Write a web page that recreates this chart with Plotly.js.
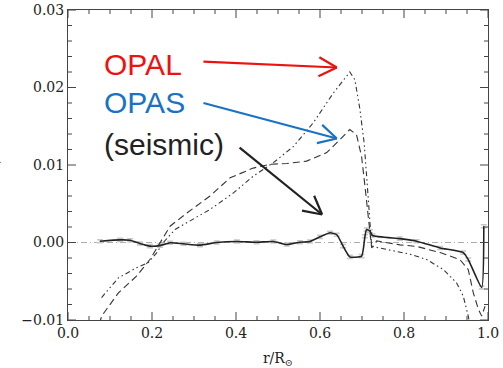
<!DOCTYPE html>
<html><head><meta charset="utf-8">
<script src="https://cdn.plot.ly/plotly-3.0.1.min.js"></script>
<style>html,body{margin:0;padding:0;background:#fff;}#chart{width:503px;height:368px;}</style>
</head><body><div id="chart"></div>
<script>
// OPAL (dash-dot-dot)
const opalX = [0.080,0.120,0.163,0.191,0.211,0.227,0.255,0.298,0.338,0.394,0.441,0.489,0.537,0.584,0.632,0.671,0.683,0.695,0.705,0.711,0.717,0.721,0.723,0.759,0.814,0.854,0.894,0.925,0.941,0.953,0.960];
const opalY = [-0.0071,-0.00456,-0.00327,-0.0026,-0.00133,0.0,0.00168,0.00297,0.00426,0.0064,0.00856,0.0103,0.0124,0.01545,0.0193,0.0220,0.0210,0.0172,0.0129,0.0086,0.0034,0.0,-0.0005,-0.0009,-0.0015,-0.0022,-0.0035,-0.0052,-0.0069,-0.0095,-0.0115];
// OPAS (dashed)
const opasX = [0.075,0.080,0.120,0.163,0.195,0.219,0.243,0.283,0.338,0.386,0.441,0.481,0.521,0.568,0.616,0.648,0.671,0.687,0.699,0.707,0.715,0.721,0.723,0.735,0.790,0.830,0.886,0.933,0.953,0.965,0.977,0.985,0.993];
const opasY = [-0.0105,-0.0095,-0.0065,-0.00435,-0.0022,0.0,0.0021,0.0038,0.0060,0.00835,0.0096,0.0101,0.0102,0.0105,0.0116,0.0133,0.01458,0.0139,0.0111,0.0073,0.0034,0.0,-0.0007,0.0002,-0.0003,-0.0005,-0.0013,-0.0022,-0.0035,-0.0065,-0.0086,-0.0095,-0.0082];
// seismic (solid)
const seisX = [0.076,0.124,0.148,0.171,0.195,0.219,0.243,0.275,0.314,0.354,0.402,0.449,0.489,0.521,0.552,0.576,0.600,0.624,0.640,0.655,0.671,0.699,0.707,0.711,0.719,0.725,0.790,0.830,0.886,0.941,0.953,0.985,0.990];
const seisY = [0.00017,0.00034,0.0003,-0.00013,-0.00047,-0.0004,-0.00004,-0.00017,-0.00034,0.0,0.00013,0.00004,0.00013,-0.00026,0.00004,0.00013,0.00073,0.00125,0.001,-0.00047,-0.00185,-0.00176,0.0008,0.00168,0.00146,0.0009,0.0005,0.00017,-0.0007,-0.0013,-0.0022,-0.0058,0.0021];
const zeroX = [0.0, 1.0];
const zeroY = [0.0, 0.0];
const xMajor = [0.0,0.2,0.4,0.6,0.8,1.0];
const yMajor = [-0.01,0.00,0.01,0.02,0.03];
const xMinorStep = 0.05, yMinorStep = 0.002;

// labels & arrows: [text, color, textX, textY, tailX, tailY, headX, headY]
const labels = [
  ['OPAL','#ee1111',0.080,0.02295,0.319,0.02335,0.640,0.02258],
  ['OPAS','#1a72c4',0.080,0.01806,0.319,0.01806,0.640,0.01342],
  ['(seismic)','#222222',0.080,0.01265,0.405,0.01239,0.605,0.00361]
];

const ink = '#333333';
const traces = [
  {x: zeroX, y: zeroY, mode:'lines', showlegend:false, line:{color:'#999999', width:0.8, dash:'6px,3px,1px,3px'}},
  {x: seisX, y: seisY, mode:'lines', showlegend:false, line:{color:'#222222', width:1.6, shape:'spline', smoothing:0.5},
   error_y:{type:'constant', value:0.0002, color:'#c8c8c8', thickness:1.5, width:3}},
  {x: opasX, y: opasY, mode:'lines', showlegend:false, line:{color:ink, width:1.1, dash:'7px,4px'}},
  {x: opalX, y: opalY, mode:'lines', showlegend:false, line:{color:ink, width:1.1, dash:'5px,3px,1.5px,3px,1.5px,3px'}}
];

const X0=68, X1=488, Y0=10, Y1=320;
const xmin=0, xmax=1, ymin=-0.01, ymax=0.03;
function px(x){return X0+(x-xmin)/(xmax-xmin)*(X1-X0);}
function py(y){return Y1-(y-ymin)/(ymax-ymin)*(Y1-Y0);}
const dxPerPx = (xmax-xmin)/(X1-X0), dyPerPx = (ymax-ymin)/(Y1-Y0);

// axis tick marks (inside, on all four sides)
const shapes = [];
const tickLine = {type:'line', xref:'x', yref:'y', line:{color:'#444', width:1}, layer:'above'};
function xTick(v, len){
  shapes.push(Object.assign({}, tickLine, {x0:v, x1:v, y0:ymin, y1:ymin+len*dyPerPx}));
  shapes.push(Object.assign({}, tickLine, {x0:v, x1:v, y0:ymax, y1:ymax-len*dyPerPx}));
}
function yTick(v, len){
  shapes.push(Object.assign({}, tickLine, {y0:v, y1:v, x0:xmin, x1:xmin+len*dxPerPx}));
  shapes.push(Object.assign({}, tickLine, {y0:v, y1:v, x0:xmax, x1:xmax-len*dxPerPx}));
}
xMajor.forEach(v=>xTick(v, 8));
yMajor.forEach(v=>yTick(v, 8));
for(let i=1;i<Math.round((xmax-xmin)/xMinorStep);i++){
  const v = xmin+i*xMinorStep;
  if(!xMajor.some(m=>Math.abs(m-v)<1e-9)) xTick(v, 4);
}
for(let i=1;i<Math.round((ymax-ymin)/yMinorStep);i++){
  const v = ymin+i*yMinorStep;
  if(!yMajor.some(m=>Math.abs(m-v)<1e-9)) yTick(v, 4);
}

const annotations = [];
labels.forEach(l=>{
  const [t,c,tx,ty,ax,ay,hx,hy]=l;
  annotations.push({x:tx,y:ty,xref:'x',yref:'y',text:t,showarrow:false,xanchor:'left',yanchor:'middle',
    font:{family:'Liberation Sans, Arial, sans-serif',size:30,color:c}});
  annotations.push({x:hx,y:hy,xref:'x',yref:'y',ax:ax,ay:ay,axref:'x',ayref:'y',text:'',showarrow:true,
    arrowhead:0,arrowwidth:2.2,arrowcolor:c,standoff:0,startstandoff:0});
  const dx=px(ax)-px(hx), dy=py(ay)-py(hy);
  const L=Math.hypot(dx,dy);
  [28,-28].forEach(a=>{
    const r=a*Math.PI/180;
    const ux=(dx*Math.cos(r)-dy*Math.sin(r))/L*22;
    const uy=(dx*Math.sin(r)+dy*Math.cos(r))/L*22;
    annotations.push({x:hx,y:hy,xref:'x',yref:'y',ax:ux,ay:uy,text:'',showarrow:true,
      arrowhead:0,arrowwidth:2.2,arrowcolor:c,standoff:0,startstandoff:0});
  });
});
annotations.push({x:-0.152,y:0.5,xref:'paper',yref:'paper',text:'δc/c',textangle:-90,showarrow:false,
  xanchor:'right',yanchor:'middle',font:{family:'DejaVu Serif, serif',size:14,color:'#222'}});

const layout = {
  width:503, height:368, margin:{l:68,r:15,t:10,b:48},
  xaxis:{ticks:'', showline:true, linecolor:'#444', mirror:true,
    showgrid:false, zeroline:false, range:[xmin,xmax], tickvals:xMajor, ticktext:xMajor.map(v=>v.toFixed(1)),
    tickfont:{family:'DejaVu Serif, serif', size:14, color:'#222'},
    title:{text:'r/R<sub>⊙</sub>', font:{family:'DejaVu Serif, serif', size:14, color:'#222'}}},
  yaxis:{ticks:'', showline:true, linecolor:'#444', mirror:true,
    showgrid:false, zeroline:false, range:[ymin,ymax], tickvals:yMajor, ticktext:yMajor.map(v=>(v<0?'−':'')+Math.abs(v).toFixed(2)),
    tickfont:{family:'DejaVu Serif, serif', size:14, color:'#222'}},
  shapes:shapes,
  annotations:annotations
};
Plotly.newPlot('chart', traces, layout, {staticPlot:true});
</script></body></html>
